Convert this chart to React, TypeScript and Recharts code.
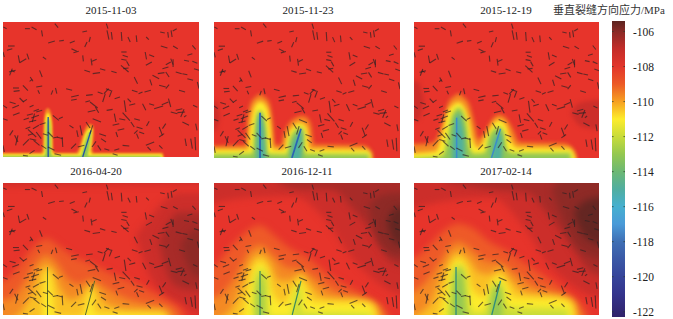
import { ComposedChart, Area, XAxis, YAxis, ReferenceLine } from 'recharts';

// Stress colour steps (MPa), same ramp as the colour bar
const C105 = '#642622';
const C106 = '#8e2a26';
const C1065 = '#a82b28';
const C107 = '#cc2e2a';
const C108 = '#e7342b';
const C1085 = '#ee5a28';
const C109 = '#f48a24';
const C110 = '#fac025';
const C111 = '#fdec2c';
const C112 = '#c8dc3a';
const C113 = '#8fc656';
const C115 = '#4fb0a0';

const BAR_VALUES = [-105.4, -106, -107, -108, -109, -110, -111, -112, -113, -114, -115, -116, -117, -118, -119, -120, -121, -122.3];
const BAR_COLORS = ['#5c2420', '#8a2a26', '#c42d29', '#e2362c', '#ec5a26', '#f6a022', '#fdec2c', '#c8dc3a', '#94c850', '#6cb874', '#50aea0', '#46b0d0', '#4a9ad8', '#3f6fb4', '#3a58a6', '#36449a', '#34348c', '#30226a'];
const BAR_TICKS = [-106, -108, -110, -112, -114, -116, -118, -120, -122];

const DATES = ['2015-11-03', '2015-11-23', '2015-12-19', '2016-04-20', '2016-12-11', '2017-02-14'];

// Natural fractures in grid units, [x1, y1, x2, y2]
const FRACTURES = [
  [1, 15, 11, 20], [66, 20, 81, 20], [86, 15, 101, 23], [116, 25, 119, 43], [156, 5, 166, 17], [136, 63, 156, 57], [169, 57, 183, 55],
  [201, 63, 216, 57], [239, 30, 253, 27], [246, 75, 253, 60], [259, 60, 263, 45], [311, 5, 316, 20], [313, 25, 319, 53], [326, 30, 329, 53],
  [356, 30, 358, 57], [376, 45, 383, 60], [401, 40, 403, 60], [431, 45, 439, 53], [473, 30, 487, 33], [496, 30, 498, 47], [506, 25, 509, 45],
  [511, 27, 523, 20], [15, 72, 35, 72], [12, 85, 28, 80], [0, 90, 4, 105], [206, 80, 222, 88], [212, 92, 228, 88], [240, 100, 242, 118],
  [46, 100, 50, 122], [50, 122, 70, 110], [72, 95, 78, 112], [120, 105, 130, 112], [356, 90, 372, 90], [360, 100, 376, 105], [356, 112, 372, 115],
  [428, 90, 432, 112], [440, 98, 455, 104], [475, 72, 495, 78], [512, 72, 526, 80], [570, 70, 580, 82], [265, 110, 268, 130], [268, 118, 282, 112],
  [545, 115, 560, 118], [570, 118, 585, 124], [505, 110, 512, 128], [512, 112, 512, 135], [490, 128, 505, 120], [480, 140, 498, 135], [555, 100, 570, 95],
  [25, 145, 35, 150], [18, 150, 38, 145], [20, 160, 28, 140], [110, 145, 118, 165], [82, 165, 90, 178], [80, 178, 88, 172], [245, 145, 262, 150],
  [270, 155, 292, 152], [292, 140, 308, 145], [326, 148, 342, 152], [355, 130, 378, 150], [362, 140, 378, 138], [372, 118, 380, 132], [395, 165, 405, 185],
  [450, 160, 470, 170], [490, 150, 500, 165], [466, 155, 486, 152], [520, 150, 538, 155], [540, 155, 555, 158], [430, 130, 448, 120], [575, 140, 590, 145],
  [30, 198, 48, 198], [32, 208, 50, 206], [60, 190, 75, 206], [100, 195, 118, 192], [105, 205, 110, 215], [158, 198, 162, 215], [150, 205, 145, 218],
  [190, 200, 208, 205], [205, 225, 228, 220], [250, 220, 270, 218], [248, 240, 262, 236], [285, 210, 300, 215], [310, 200, 325, 206], [304, 215, 318, 200],
  [300, 240, 308, 215], [320, 225, 328, 205], [336, 230, 352, 225], [388, 205, 405, 210], [426, 210, 445, 205], [470, 190, 490, 195], [490, 200, 500, 188],
  [442, 172, 448, 190], [408, 215, 420, 210], [555, 170, 572, 175], [530, 205, 548, 210], [585, 180, 590, 200], [20, 240, 38, 245], [50, 228, 62, 240],
  [60, 240, 72, 232], [0, 250, 12, 258], [28, 258, 48, 250], [80, 255, 92, 250], [100, 270, 118, 265], [205, 235, 222, 232], [255, 270, 278, 265],
  [262, 240, 285, 258], [278, 255, 288, 272], [312, 265, 330, 262], [365, 235, 370, 270], [375, 230, 385, 240], [380, 250, 398, 245], [420, 245, 430, 265],
  [440, 245, 455, 250], [478, 248, 498, 240], [498, 230, 505, 255], [455, 260, 482, 252], [520, 265, 540, 260], [545, 262, 535, 285], [505, 270, 525, 275],
  [525, 272, 548, 270], [572, 250, 585, 256], [545, 285, 552, 280], [0, 290, 14, 295], [30, 280, 50, 272], [72, 280, 90, 275], [92, 268, 108, 262],
  [62, 293, 78, 288], [85, 288, 108, 280], [95, 275, 88, 300], [78, 300, 100, 295], [110, 308, 128, 302], [68, 320, 82, 315], [90, 320, 108, 310],
  [150, 280, 168, 295], [168, 290, 180, 285], [200, 310, 212, 318], [270, 290, 295, 300], [250, 300, 262, 318], [335, 275, 340, 300], [330, 310, 350, 305],
  [350, 290, 368, 294], [360, 272, 382, 296], [385, 300, 395, 315], [402, 315, 420, 320], [395, 290, 412, 295], [432, 312, 440, 298], [480, 320, 490, 305],
  [540, 300, 560, 310], [580, 305, 584, 325], [222, 325, 226, 345], [232, 310, 238, 340], [270, 310, 262, 335], [290, 335, 310, 342], [295, 350, 310, 360],
  [20, 340, 30, 325], [35, 340, 45, 360], [75, 340, 90, 335], [80, 350, 100, 355], [75, 322, 100, 345], [100, 330, 115, 350], [120, 335, 135, 340],
  [135, 330, 150, 345], [162, 345, 180, 350], [178, 345, 180, 375], [345, 325, 365, 320], [340, 330, 345, 345], [395, 335, 405, 325], [402, 335, 408, 350],
  [410, 330, 425, 335], [470, 345, 485, 335], [470, 315, 480, 340], [548, 350, 552, 372], [565, 350, 570, 380], [578, 345, 580, 385], [0, 370, 4, 390],
  [45, 340, 38, 370], [60, 370, 78, 352], [92, 355, 110, 370], [115, 370, 130, 380], [150, 348, 165, 345], [135, 375, 155, 385], [205, 380, 220, 365],
  [225, 375, 245, 370], [280, 358, 268, 375], [285, 370, 295, 385], [305, 380, 320, 385], [335, 385, 350, 380], [360, 370, 380, 372], [435, 375, 445, 385],
  [430, 370, 455, 360], [470, 370, 480, 380], [80, 395, 95, 385], [60, 400, 75, 402], [155, 395, 175, 400], [330, 395, 345, 400],
];

// Contour profiles: [x, upper edge, lower edge when it is not the model base]
const P1_ORANGE = [[-30, 392], [112, 392], [119, 385], [123, 300], [127, 268], [135, 258], [143, 268], [149, 300], [152, 385], [158, 392], [218, 392], [228, 380], [240, 340], [252, 312], [262, 306], [272, 312], [274, 340], [268, 385], [274, 392], [480, 392], [490, 430], [620, 430]];
const P1_YELLOW = [[-30, 397], [116, 397], [124, 390], [126, 310], [130, 280], [135, 272], [141, 280], [146, 310], [148, 390], [156, 397], [225, 397], [233, 385], [244, 345], [256, 322], [264, 318], [270, 322], [268, 345], [262, 385], [268, 397], [478, 397], [486, 430], [620, 430]];
const P1_GREEN = [[-30, 402], [122, 402], [128, 395], [130, 320], [133, 295], [136, 290], [140, 295], [143, 320], [145, 395], [150, 402], [235, 402], [240, 385], [250, 350], [260, 330], [266, 328], [264, 345], [258, 385], [254, 402], [474, 402], [480, 430], [620, 430]];

const P2_ORANGE = [[-30, 370], [100, 368], [106, 300], [118, 240], [135, 222], [146, 215], [158, 222], [175, 240], [186, 300], [192, 365], [212, 368], [220, 340], [240, 300], [262, 285], [278, 280], [295, 285], [308, 310], [316, 365], [470, 368], [490, 375], [506, 430], [620, 430]];
const P2_YELLOW = [[-30, 380], [108, 380], [114, 320], [125, 260], [138, 240], [146, 236], [155, 240], [170, 260], [180, 320], [186, 378], [222, 380], [232, 340], [250, 312], [272, 300], [288, 306], [298, 330], [302, 378], [480, 380], [500, 390], [502, 430], [620, 430]];
const P2_GREEN = [[-30, 394], [122, 392], [130, 320], [136, 280], [146, 262], [156, 280], [165, 320], [170, 392], [232, 394], [240, 350], [258, 322], [275, 312], [285, 330], [288, 392], [490, 394], [498, 430], [620, 430]];
const P2_TEAL = [[-30, 430], [130, 430], [136, 380], [138, 310], [146, 272], [156, 310], [162, 380], [166, 430], [240, 430], [246, 380], [262, 340], [278, 322], [280, 350], [276, 430], [620, 430]];
const P2_DARK = [[-30, 230, 330], [8, 240, 320], [18, 280, 285]];

const P3_ORANGE = [[-30, 365], [60, 360], [92, 300], [110, 240], [130, 220], [142, 214], [156, 222], [178, 250], [194, 310], [205, 350], [225, 330], [250, 290], [272, 276], [292, 285], [315, 320], [335, 358], [480, 362], [510, 385], [525, 430], [620, 430]];
const P3_YELLOW = [[-30, 392], [70, 385], [88, 340], [105, 275], [125, 246], [142, 238], [158, 250], [175, 290], [188, 350], [205, 375], [228, 340], [250, 305], [272, 292], [292, 305], [308, 350], [330, 374], [495, 376], [514, 400], [518, 430], [620, 430]];
const P3_GREEN = [[-30, 406], [90, 400], [106, 350], [118, 290], [132, 262], [142, 254], [154, 265], [168, 310], [176, 370], [190, 392], [225, 390], [238, 345], [255, 320], [272, 312], [285, 325], [295, 375], [310, 390], [498, 390], [506, 430], [620, 430]];
const P3_TEAL = [[-30, 430], [118, 430], [124, 350], [130, 300], [142, 272], [152, 300], [160, 350], [164, 430], [245, 430], [252, 370], [262, 340], [276, 326], [282, 350], [280, 430], [620, 430]];
const P3_DARK_L = [[-30, 170, 300], [15, 180, 290], [32, 235, 236]];
const P3_DARK_R = [[500, 270, 272], [530, 240, 310], [590, 232, 320], [620, 232, 320]];

const P4_REDORANGE = [[-30, 300], [0, 300], [40, 265], [90, 200], [130, 170], [170, 195], [210, 225], [260, 245], [320, 275], [380, 300], [440, 330], [500, 362], [540, 395], [560, 430], [620, 430]];
const P4_ORANGE = [[-30, 365], [30, 350], [70, 295], [100, 245], [130, 220], [165, 250], [195, 295], [230, 310], [265, 295], [300, 315], [350, 345], [420, 368], [490, 380], [520, 408], [530, 430], [620, 430]];
const P4_AMBER = [[-30, 430], [40, 410], [85, 340], [108, 280], [130, 250], [150, 270], [170, 320], [205, 360], [240, 340], [265, 310], [285, 330], [310, 370], [380, 388], [480, 390], [505, 430], [620, 430]];
const P4_YELLOW = [[-30, 445], [115, 445], [122, 340], [130, 268], [142, 275], [150, 340], [158, 408], [238, 412], [250, 370], [262, 325], [272, 340], [272, 394], [300, 402], [490, 404], [500, 445], [620, 445]];
const P4_TOP = [[-30, -30, 8], [200, -30, 6], [620, -30, 4]];
const P4_DARK1 = [[400, 160, 162], [440, 110, 280], [480, 60, 340], [530, 30, 370], [590, 30, 400], [620, 30, 400]];
const P4_DARK2 = [[470, 180, 182], [500, 120, 290], [530, 90, 320], [590, 90, 330], [620, 90, 330]];
const P4_DARK3 = [[535, 190, 192], [565, 150, 270], [590, 140, 290], [620, 140, 290]];

const P5_REDORANGE = [[-30, 260], [0, 255], [40, 210], [90, 160], [146, 130], [190, 160], [240, 200], [300, 230], [360, 280], [430, 320], [490, 352], [540, 385], [570, 430], [620, 430]];
const P5_ORANGE = [[-30, 360], [30, 335], [75, 275], [112, 210], [146, 190], [190, 225], [230, 260], [270, 265], [320, 292], [380, 332], [460, 352], [510, 372], [540, 412], [550, 430], [620, 430]];
const P5_AMBER = [[-30, 430], [50, 395], [90, 310], [118, 240], [146, 218], [178, 245], [205, 300], [245, 300], [275, 275], [308, 315], [355, 352], [470, 360], [515, 380], [530, 430], [620, 430]];
const P5_YELLOW = [[-30, 445], [80, 435], [105, 345], [124, 265], [146, 240], [168, 265], [185, 335], [220, 370], [250, 325], [273, 295], [290, 320], [312, 364], [490, 368], [508, 392], [512, 445], [620, 445]];
const P5_GREEN = [[-30, 445], [124, 445], [130, 325], [137, 274], [146, 262], [162, 274], [170, 325], [174, 410], [246, 410], [256, 342], [273, 312], [278, 340], [276, 398], [498, 402], [504, 445], [620, 445]];
const P5_TEAL = [[-30, 445], [136, 445], [139, 320], [146, 282], [153, 320], [156, 445], [620, 445]];
const P5_DARK1 = [[-30, -30, 70], [100, -30, 45], [250, -30, 40], [350, -30, 110], [430, -30, 220], [500, -30, 290], [560, -30, 330], [620, -30, 350]];
const P5_DARK2 = [[200, -30, -4], [260, -30, 18], [380, -30, 22], [440, -30, 80], [510, -30, 160], [560, -30, 240], [620, -30, 260]];
const P5_DARK3 = [[490, 70, 72], [525, 40, 190], [590, 30, 225], [620, 30, 225]];
const P5_DARK4 = [[550, 120, 122], [572, 80, 180], [620, 70, 195]];

const P6_REDORANGE = [[-30, 235], [0, 230], [40, 200], [90, 150], [140, 125], [190, 140], [240, 180], [300, 210], [360, 250], [430, 295], [490, 338], [540, 380], [570, 430], [620, 430]];
const P6_ORANGE = [[-30, 345], [30, 312], [75, 255], [112, 200], [140, 180], [190, 210], [230, 240], [270, 245], [320, 275], [380, 315], [450, 338], [505, 358], [530, 402], [545, 430], [620, 430]];
const P6_AMBER = [[-30, 420], [50, 375], [85, 295], [116, 232], [140, 210], [175, 235], [208, 275], [245, 280], [275, 260], [308, 298], [358, 335], [470, 350], [510, 370], [525, 430], [620, 430]];
const P6_YELLOW = [[-30, 445], [70, 425], [100, 330], [120, 255], [142, 232], [165, 255], [186, 325], [222, 350], [250, 300], [270, 284], [294, 302], [318, 350], [480, 358], [505, 380], [510, 445], [620, 445]];
const P6_GREEN = [[-30, 445], [100, 445], [112, 360], [125, 282], [142, 252], [162, 282], [172, 350], [186, 398], [230, 396], [246, 330], [268, 304], [283, 324], [296, 382], [490, 388], [500, 445], [620, 445]];
const P6_TEAL = [[-30, 445], [124, 445], [128, 330], [135, 272], [144, 258], [153, 275], [160, 340], [165, 445], [238, 445], [250, 350], [266, 314], [278, 335], [280, 445], [620, 445]];
const P6_DARK1 = [[-30, -30, 90], [100, -30, 55], [250, -30, 45], [350, -30, 135], [430, -30, 250], [500, -30, 310], [560, -30, 345], [620, -30, 360]];
const P6_DARK2 = [[100, -30, -4], [260, -30, 20], [360, -30, 30], [430, -30, 100], [500, -30, 190], [560, -30, 270], [620, -30, 290]];
const P6_DARK3 = [[440, 20, 22], [490, -30, 150], [540, -30, 215], [620, -30, 240]];
const P6_DARK4 = [[510, 90, 92], [545, 55, 165], [620, 40, 195]];

// Main hydraulic fractures: [x1, y1, x2, y2]
const MAIN_A = [136, 405, 136, 285];
const MAIN_B = [240, 405, 265, 325];
const MAIN_A_WIDE = [146, 405, 146, 270];
const MAIN_B_WIDE = [247, 405, 276, 318];
const MAIN_A_LOW = [134, 405, 134, 258];
const MAIN_B_LOW = [248, 405, 276, 300];

const X_DOMAIN = [0, 590];
const Y_DOMAIN = [0, 405];
const MODEL_BASE = 445;

type Layer = { points: number[][]; color: string };

const band = (points: number[][]) => points.map(([x, top, bottom = MODEL_BASE]) => ({ x, band: [top, bottom] }));

const PANELS: { left: number; top: number; w: number; h: number; title: number; blur: string; main: number[][]; mainColor: string; mainWidth: number; layers: Layer[] }[] = [
  {
    left: 3, top: 22, w: 196, h: 135, title: 111, blur: 'b1', main: [MAIN_A, MAIN_B], mainColor: '#2350a4', mainWidth: 1.3,
    layers: [
      { points: P1_ORANGE, color: C109 }, { points: P1_YELLOW, color: C111 }, { points: P1_GREEN, color: C113 },
    ],
  },
  {
    left: 214, top: 22, w: 186, h: 136, title: 308, blur: 'b2', main: [MAIN_A_WIDE, MAIN_B_WIDE], mainColor: '#2a62b4', mainWidth: 1.7,
    layers: [
      { points: P2_DARK, color: C107 }, { points: P2_ORANGE, color: C109 }, { points: P2_YELLOW, color: C111 }, { points: P2_GREEN, color: C113 }, { points: P2_TEAL, color: C115 },
    ],
  },
  {
    left: 414, top: 22, w: 185, h: 136, title: 506, blur: 'b2', main: [MAIN_A, MAIN_B_WIDE], mainColor: '#3c8cc8', mainWidth: 1.5,
    layers: [
      { points: P3_DARK_L, color: C107 }, { points: P3_DARK_R, color: C107 }, { points: P3_ORANGE, color: C109 }, { points: P3_YELLOW, color: C111 }, { points: P3_GREEN, color: C113 }, { points: P3_TEAL, color: C115 },
    ],
  },
  {
    left: 3, top: 183, w: 196, h: 132, title: 96, blur: 'b3', main: [MAIN_A_LOW, MAIN_B_LOW], mainColor: '#5a6a28', mainWidth: 1,
    layers: [
      { points: P4_TOP, color: C107 }, { points: P4_DARK1, color: C107 }, { points: P4_DARK2, color: C1065 }, { points: P4_DARK3, color: C106 },
      { points: P4_REDORANGE, color: C1085 }, { points: P4_ORANGE, color: C109 }, { points: P4_AMBER, color: C110 }, { points: P4_YELLOW, color: C111 },
    ],
  },
  {
    left: 214, top: 183, w: 186, h: 132, title: 307, blur: 'b3', main: [MAIN_A_WIDE, MAIN_B_LOW], mainColor: '#3a8a5c', mainWidth: 1.2,
    layers: [
      { points: P5_DARK1, color: C107 }, { points: P5_DARK2, color: C1065 }, { points: P5_DARK3, color: C106 }, { points: P5_DARK4, color: C105 },
      { points: P5_REDORANGE, color: C1085 }, { points: P5_ORANGE, color: C109 }, { points: P5_AMBER, color: C110 }, { points: P5_YELLOW, color: C111 }, { points: P5_GREEN, color: C112 }, { points: P5_TEAL, color: C113 },
    ],
  },
  {
    left: 414, top: 183, w: 185, h: 132, title: 506, blur: 'b3', main: [MAIN_A_LOW, MAIN_B_LOW], mainColor: '#2f8c7c', mainWidth: 1.3,
    layers: [
      { points: P6_DARK1, color: C107 }, { points: P6_DARK2, color: C1065 }, { points: P6_DARK3, color: C106 }, { points: P6_DARK4, color: C105 },
      { points: P6_REDORANGE, color: C1085 }, { points: P6_ORANGE, color: C109 }, { points: P6_AMBER, color: C110 }, { points: P6_YELLOW, color: C111 }, { points: P6_GREEN, color: C112 }, { points: P6_TEAL, color: C113 },
    ],
  },
];

const SERIF = '"Liberation Serif", "Noto Sans CJK SC", serif';

const CSS = `
.b1 .recharts-area-area { filter: blur(1.1px); }
.b2 .recharts-area-area { filter: blur(2px); }
.b3 .recharts-area-area { filter: blur(3.5px); }
.frac line { filter: blur(0.4px); }
`;

function Panel({ panel }: { panel: (typeof PANELS)[number] }) {
  return (
    <div className={panel.blur} style={{ position: 'absolute', left: panel.left, top: panel.top, width: panel.w, height: panel.h, background: C108 }}>
      <ComposedChart width={panel.w} height={panel.h} margin={{ top: 0, right: 0, bottom: 0, left: 0 }}>
        <XAxis type="number" dataKey="x" domain={X_DOMAIN} allowDataOverflow hide />
        <YAxis type="number" domain={Y_DOMAIN} reversed allowDataOverflow hide />
        {panel.layers.map((layer, i) => (
          <Area
            key={i}
            data={band(layer.points)}
            dataKey="band"
            type="monotone"
            stroke="none"
            fill={layer.color}
            fillOpacity={1}
            dot={false}
            activeDot={false}
            isAnimationActive={false}
          />
        ))}
        {panel.main.map((m, i) => (
          <ReferenceLine key={i} segment={[{ x: m[0], y: m[1] }, { x: m[2], y: m[3] }]} stroke={panel.mainColor} strokeWidth={panel.mainWidth} />
        ))}
        {FRACTURES.map((f, i) => (
          <ReferenceLine key={i} className="frac" segment={[{ x: f[0], y: f[1] }, { x: f[2], y: f[3] }]} stroke="#2e2224" strokeOpacity={0.7} strokeWidth={1.1} />
        ))}
      </ComposedChart>
    </div>
  );
}

function ColorBar() {
  const top = BAR_VALUES[0];
  const bottom = BAR_VALUES[BAR_VALUES.length - 1];
  const rows = [{ x: 0, band: [bottom, top] }, { x: 1, band: [bottom, top] }];
  return (
    <div style={{ position: 'absolute', left: 612, top: 0 }}>
      <ComposedChart width={61} height={319} data={rows} margin={{ top: 21, right: 0, bottom: 2, left: 0 }}>
        <defs>
          <linearGradient id="cbar" x1="0" y1="0" x2="0" y2="1">
            {BAR_VALUES.map((v, i) => (
              <stop key={v} offset={(top - v) / (top - bottom)} stopColor={BAR_COLORS[i]} />
            ))}
          </linearGradient>
        </defs>
        <XAxis type="number" dataKey="x" domain={[0, 1]} hide />
        <YAxis
          type="number"
          orientation="right"
          width={48}
          domain={[bottom, top]}
          ticks={BAR_TICKS}
          interval={0}
          axisLine={false}
          tickLine={false}
          tickMargin={2}
          tick={{ fontSize: 11.5, fontFamily: SERIF, fill: '#222' }}
        />
        <Area dataKey="band" type="linear" stroke="none" fill="url(#cbar)" fillOpacity={1} dot={false} activeDot={false} isAnimationActive={false} />
        {BAR_TICKS.map(t => (
          <ReferenceLine key={`l${t}`} segment={[{ x: 0, y: t }, { x: 0.12, y: t }]} stroke="#2a3a2a" strokeOpacity={0.7} />
        ))}
        {BAR_TICKS.map(t => (
          <ReferenceLine key={`r${t}`} segment={[{ x: 0.88, y: t }, { x: 1, y: t }]} stroke="#2a3a2a" strokeOpacity={0.7} />
        ))}
      </ComposedChart>
    </div>
  );
}

export default function App() {
  return (
    <div style={{ position: 'absolute', left: 0, top: 0, width: 673, height: 319, background: '#fff', overflow: 'hidden' }}>
      <style>{CSS}</style>
      {PANELS.map((p, i) => (
        <div key={DATES[i]}>
          <div style={{ position: 'absolute', left: p.title - 40, width: 80, top: p.top - 18, textAlign: 'center', fontFamily: SERIF, fontSize: 11, lineHeight: '13px', color: '#222' }}>
            {DATES[i]}
          </div>
          <Panel panel={p} />
        </div>
      ))}
      <div style={{ position: 'absolute', left: 553, top: 3, fontFamily: SERIF, fontSize: 11, lineHeight: '14px', color: '#333', whiteSpace: 'nowrap' }}>
        垂直裂缝方向应力/MPa
      </div>
      <ColorBar />
    </div>
  );
}
